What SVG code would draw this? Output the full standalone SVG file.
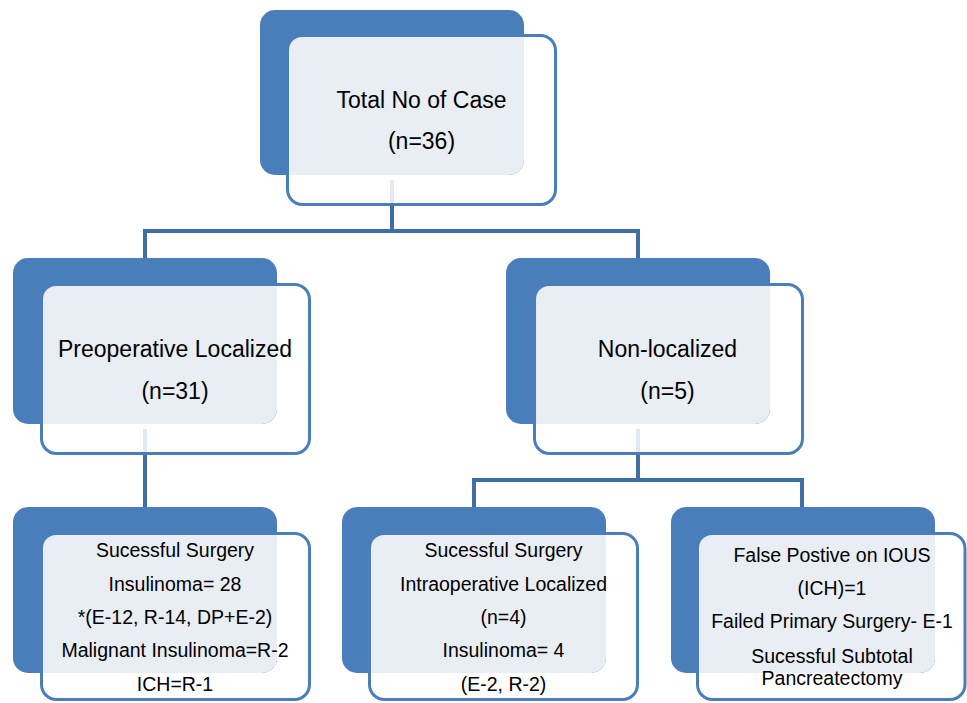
<svg xmlns="http://www.w3.org/2000/svg" width="967" height="703" viewBox="0 0 967 703">
<style>
.back{fill:#4a7ebb}
.front{fill:#ffffff;stroke:#4a7ebb;stroke-width:3}
.inner{fill:#e9edf4}
.conn{fill:none;stroke:#3f6ea5;stroke-width:4}
.ghost{fill:none;stroke:#e3e8f0;stroke-width:4}
text{font-family:"Liberation Sans",Arial,sans-serif;fill:#000;text-anchor:middle}
.t1{font-size:23px}
.t2{font-size:19.5px}
</style>
<rect width="967" height="703" fill="#ffffff"/>
<g id="node-total">
<rect class="front" x="287.5" y="35.5" width="268" height="169" rx="15"/>
<rect class="back" x="260" y="10" width="264" height="165" rx="15"/>
<path class="inner" d="M289,50 A13,13 0 0 1 302,37 H524 V160 A15,15 0 0 1 509,175 H289 Z"/>
<text class="t1" x="421.5" y="108">Total No of Case</text>
<text class="t1" x="421.5" y="149">(n=36)</text>
</g>
<g id="node-preop">
<rect class="front" x="41.5" y="284.5" width="268" height="169" rx="15"/>
<rect class="back" x="13" y="258" width="264" height="166" rx="15"/>
<path class="inner" d="M43,299 A13,13 0 0 1 56,286 H277 V409 A15,15 0 0 1 262,424 H43 Z"/>
<text class="t1" x="175" y="357">Preoperative Localized</text>
<text class="t1" x="175" y="399">(n=31)</text>
</g>
<g id="node-nonloc">
<rect class="front" x="534.5" y="284.5" width="268" height="169" rx="15"/>
<rect class="back" x="506" y="258" width="264" height="166" rx="15"/>
<path class="inner" d="M536,299 A13,13 0 0 1 549,286 H770 V409 A15,15 0 0 1 755,424 H536 Z"/>
<text class="t1" x="667.5" y="357">Non-localized</text>
<text class="t1" x="667.5" y="399">(n=5)</text>
</g>
<g id="node-success-preop">
<rect class="front" x="41.5" y="533.5" width="268" height="166" rx="15"/>
<rect class="back" x="13" y="507" width="264" height="166" rx="15"/>
<path class="inner" d="M43,548 A13,13 0 0 1 56,535 H277 V658 A15,15 0 0 1 262,673 H43 Z"/>
<text class="t2" x="175" y="557">Sucessful Surgery</text>
<text class="t2" x="175" y="591">Insulinoma= 28</text>
<text class="t2" x="175" y="624">*(E-12, R-14, DP+E-2)</text>
<text class="t2" x="175" y="657">Malignant Insulinoma=R-2</text>
<text class="t2" x="175" y="691">ICH=R-1</text>
</g>
<g id="node-success-intraop">
<rect class="front" x="369.5" y="533.5" width="268" height="166" rx="15"/>
<rect class="back" x="342" y="507" width="264" height="166" rx="15"/>
<path class="inner" d="M371,548 A13,13 0 0 1 384,535 H606 V658 A15,15 0 0 1 591,673 H371 Z"/>
<text class="t2" x="503.5" y="557">Sucessful Surgery</text>
<text class="t2" x="503.5" y="591">Intraoperative Localized</text>
<text class="t2" x="503.5" y="624">(n=4)</text>
<text class="t2" x="503.5" y="657">Insulinoma= 4</text>
<text class="t2" x="503.5" y="691">(E-2, R-2)</text>
</g>
<g id="node-false-positive">
<rect class="front" x="697.5" y="533.5" width="267.5" height="166" rx="15"/>
<rect class="back" x="671" y="507" width="264" height="166" rx="15"/>
<path class="inner" d="M699,548 A13,13 0 0 1 712,535 H935 V658 A15,15 0 0 1 920,673 H699 Z"/>
<text class="t2" x="832" y="562">False Postive on IOUS</text>
<text class="t2" x="832" y="595">(ICH)=1</text>
<text class="t2" x="832" y="628">Failed Primary Surgery- E-1</text>
<text class="t2" x="832" y="663">Sucessful Subtotal</text>
<text class="t2" x="832" y="685">Pancreatectomy</text>
</g>
<g id="connectors">
<line class="ghost" x1="392" y1="180" x2="392" y2="203"/>
<line class="ghost" x1="145" y1="429" x2="145" y2="452"/>
<line class="ghost" x1="638" y1="429" x2="638" y2="452"/>
<path class="conn" d="M392,205 V231 M145,258 V231 H638 V258"/>
<path class="conn" d="M145,455 V507"/>
<path class="conn" d="M638,455 V480 M474,507 V480 H802 V507"/>
</g>
</svg>
